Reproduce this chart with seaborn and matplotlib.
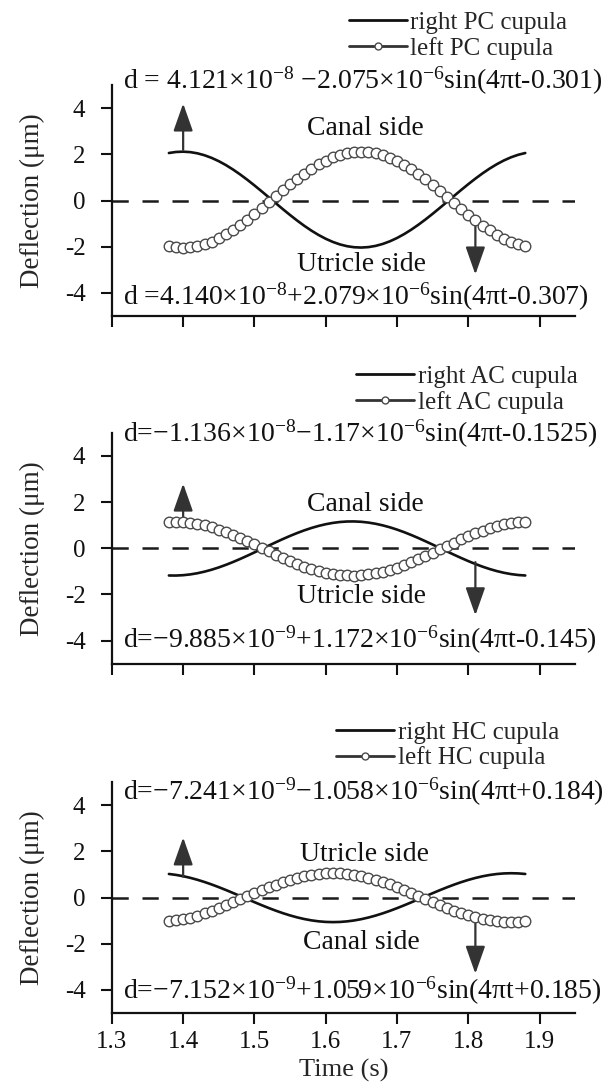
import numpy as np
import pandas as pd
import seaborn as sns
import matplotlib
matplotlib.use("Agg")
import matplotlib.pyplot as plt

sns.set_style("ticks")
plt.rcParams["font.family"] = ["Liberation Serif", "DejaVu Serif"]
plt.rcParams["mathtext.fontset"] = "custom"
plt.rcParams["mathtext.rm"] = "Liberation Serif"
plt.rcParams["mathtext.it"] = "Liberation Serif:italic"

# Sampling instants (s)
time_s = np.round(np.arange(1.38, 1.8801, 0.01), 2)

# Fitted cupula deflection d = a + b*sin(4*pi*t + c)  (metres)
canals = ["PC", "AC", "HC"]
right_offset = [4.121e-8, -9.885e-9, -7.241e-9]
right_amp = [-2.075e-6, 1.172e-6, -1.058e-6]
right_phase = [-0.301, -0.145, 0.184]
left_offset = [4.140e-8, -1.136e-8, -7.152e-9]
left_amp = [2.079e-6, -1.17e-6, 1.059e-6]
left_phase = [-0.307, -0.1525, 0.185]

# Equations printed above / below each panel
eq_upper = [
    r"d = 4.121×10$^{\mathregular{-8}}$ −2.075×10$^{\mathregular{-6}}$sin(4πt-0.301)",
    r"d=−1.136×10$^{\mathregular{-8}}$−1.17×10$^{\mathregular{-6}}$sin(4πt-0.1525)",
    r"d=−7.241×10$^{\mathregular{-9}}$−1.058×10$^{\mathregular{-6}}$sin(4πt+0.184)",
]
eq_lower = [
    r"d =4.140×10$^{\mathregular{-8}}$+2.079×10$^{\mathregular{-6}}$sin(4πt-0.307)",
    r"d=−9.885×10$^{\mathregular{-9}}$+1.172×10$^{\mathregular{-6}}$sin(4πt-0.145)",
    r"d=−7.152×10$^{\mathregular{-9}}$+1.059×10$^{\mathregular{-6}}$sin(4πt+0.185)",
]
side_upper = ["Canal side", "Canal side", "Utricle side"]
side_lower = ["Utricle side", "Utricle side", "Canal side"]

x_ticks = [1.3, 1.4, 1.5, 1.6, 1.7, 1.8, 1.9]
y_ticks = [-4, -2, 0, 2, 4]

fig = plt.figure(figsize=(6.08, 10.90), dpi=100)
left, width = 0.184, 0.762
bottoms = [0.710, 0.391, 0.0706]
height = 0.212

# per-panel annotation layout (data coords)
up_arrow = [(1.40, 2.2, 4.2), (1.40, 1.35, 2.8), (1.40, 0.9, 2.6)]
down_arrow = [(1.81, -1.1, -3.2), (1.81, -0.6, -2.9), (1.81, -0.8, -3.3)]
upper_eq_y = [5.2, 4.97, 4.58]
lower_eq_y = [-4.15, -3.95, -4.05]
upper_side_y = [3.1, 1.9, 1.85]
lower_side_y = [-2.75, -2.1, -1.95]
legend_xy = [(0.983, 1.318), (1.005, 1.29), (0.965, 1.262)]

for i, canal in enumerate(canals):
    ax = fig.add_axes([left, bottoms[i], width, height])
    d_right = (right_offset[i] + right_amp[i] * np.sin(4 * np.pi * time_s + right_phase[i])) * 1e6
    d_left = (left_offset[i] + left_amp[i] * np.sin(4 * np.pi * time_s + left_phase[i])) * 1e6
    df = pd.DataFrame({"t": time_s, "right": d_right, "left": d_left})

    ax.axhline(0, color="#1a1a1a", lw=1.8, ls=(0, (6.5, 5.5)), zorder=1)
    sns.lineplot(data=df, x="t", y="right", ax=ax, color="#111111", lw=1.9,
                 label=f"right {canal} cupula", zorder=3)
    sns.lineplot(data=df, x="t", y="left", ax=ax, color="#333333", lw=1.0,
                 marker="o", markersize=7.6, markerfacecolor="white",
                 markeredgecolor="#4a4a4a", markeredgewidth=1.0,
                 label=f"left {canal} cupula", zorder=4)

    ax.set_xlim(1.3, 1.95)
    ax.set_ylim(-5, 5)
    ax.set_xticks(x_ticks)
    ax.set_yticks(y_ticks)
    ax.set_yticklabels([str(v) for v in y_ticks])
    sns.despine(ax=ax)
    for sp in ("left", "bottom"):
        ax.spines[sp].set_linewidth(1.6)
        ax.spines[sp].set_color("#111111")
    ax.tick_params(axis="both", direction="out", length=8, width=1.5,
                   labelsize=18, colors="#111111")
    ax.tick_params(axis="y", pad=11)
    ax.tick_params(axis="x", pad=5)
    ax.set_ylabel("Deflection (μm)", fontsize=19.5, labelpad=14)
    if i < 2:
        ax.set_xlabel("")
        ax.tick_params(axis="x", labelbottom=False)
    else:
        ax.set_xticklabels([f"{v:.1f}" for v in x_ticks])
        ax.set_xlabel("Time (s)", fontsize=19, labelpad=4)

    ax.text(1.316, upper_eq_y[i], eq_upper[i], fontsize=20, ha="left",
            va="center", color="#111111")
    ax.text(1.316, lower_eq_y[i], eq_lower[i], fontsize=20, ha="left",
            va="center", color="#111111")
    ax.text(1.655, upper_side_y[i], side_upper[i], fontsize=20, ha="center",
            va="center", color="#111111")
    ax.text(1.650, lower_side_y[i], side_lower[i], fontsize=20, ha="center",
            va="center", color="#111111")

    for (ax_x, y0, y1) in (up_arrow[i], down_arrow[i]):
        ax.annotate("", xy=(ax_x, y1), xytext=(ax_x, y0),
                    arrowprops=dict(arrowstyle="-|>,head_length=0.85,head_width=0.3",
                                    mutation_scale=20, color="#333333", lw=1.6,
                                    shrinkA=0, shrinkB=0))

    leg = ax.legend(loc="upper right", bbox_to_anchor=legend_xy[i], frameon=False,
                    fontsize=18, handlelength=2.3, handletextpad=0.15,
                    labelspacing=0.1, borderaxespad=0, borderpad=0)
    for h in leg.legend_handles:
        h.set_markersize(5)
        h.set_linewidth(2.0)

fig.savefig("out.png", dpi=100)
